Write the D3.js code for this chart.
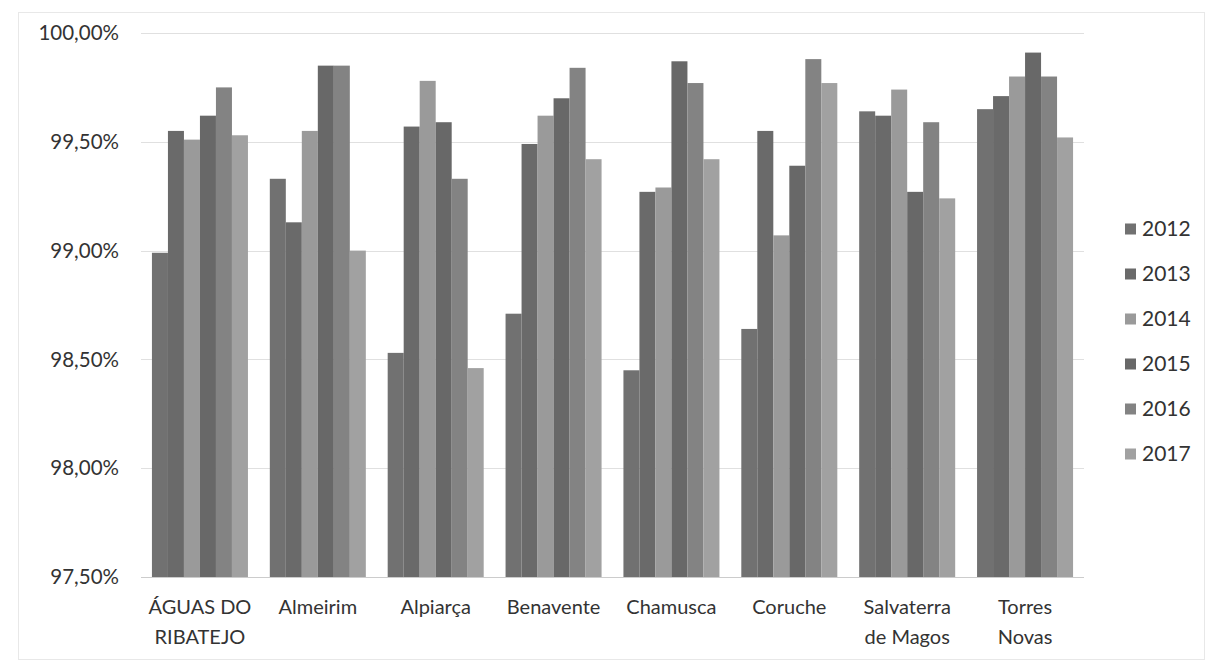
<!DOCTYPE html>
<html>
<head>
<meta charset="utf-8">
<script src="https://cdn.jsdelivr.net/npm/d3@7"></script>
<style>
  html, body { margin: 0; padding: 0; background: #fff; }
  svg { display: block; font-family: Lato, "Open Sans", "Liberation Sans", sans-serif; }
</style>
</head>
<body>
<svg id="chart" width="1209" height="665"></svg>
<script>
const categories = ["ÁGUAS DO RIBATEJO", "Almeirim", "Alpiarça", "Benavente", "Chamusca", "Coruche", "Salvaterra de Magos", "Torres Novas"];
const categoryLines = [["ÁGUAS DO", "RIBATEJO"], ["Almeirim"], ["Alpiarça"], ["Benavente"], ["Chamusca"], ["Coruche"], ["Salvaterra", "de Magos"], ["Torres", "Novas"]];
const years = ["2012", "2013", "2014", "2015", "2016", "2017"];
const v2012 = [98.99, 99.33, 98.53, 98.71, 98.45, 98.64, 99.64, 99.65];
const v2013 = [99.55, 99.13, 99.57, 99.49, 99.27, 99.55, 99.62, 99.71];
const v2014 = [99.51, 99.55, 99.78, 99.62, 99.29, 99.07, 99.74, 99.80];
const v2015 = [99.62, 99.85, 99.59, 99.70, 99.87, 99.39, 99.27, 99.91];
const v2016 = [99.75, 99.85, 99.33, 99.84, 99.77, 99.88, 99.59, 99.80];
const v2017 = [99.53, 99.00, 98.46, 99.42, 99.42, 99.77, 99.24, 99.52];
const series = [v2012, v2013, v2014, v2015, v2016, v2017];
const yTicks = [97.5, 98.0, 98.5, 99.0, 99.5, 100.0];
const colors = ["#717171", "#6a6a6a", "#9a9a9a", "#686868", "#838383", "#a1a1a1"];

const svg = d3.select("#chart");

// faint frame
svg.append("rect").attr("x", 18.5).attr("y", 12.5).attr("width", 1186).attr("height", 647)
  .attr("fill", "none").attr("stroke", "#e8e8e8");

const x0 = d3.scaleBand().domain(categories).range([141, 1084]).paddingInner(0.1855).paddingOuter(0.0928);
const x1 = d3.scaleBand().domain(years).range([0, x0.bandwidth()]);
const y = d3.scaleLinear().domain([97.5, 100]).range([577, 33]);

// gridlines
svg.append("g").selectAll("line").data(yTicks).join("line")
  .attr("x1", 141).attr("x2", 1084)
  .attr("y1", d => Math.round(y(d)) + 0.5).attr("y2", d => Math.round(y(d)) + 0.5)
  .attr("stroke", d => d === 97.5 ? "#cccccc" : "#e0e0e0").attr("stroke-width", 1.2);

// y axis labels
const fmt = d => d3.format(".2f")(d).replace(".", ",") + "%";
svg.append("g").selectAll("text").data(yTicks).join("text")
  .attr("x", 119).attr("y", d => y(d)).attr("dy", "0.35em")
  .attr("text-anchor", "end").attr("font-size", 20.5).attr("fill", "#333")
  .text(fmt);

// bars
const groups = svg.append("g").selectAll("g").data(categories).join("g")
  .attr("transform", d => `translate(${x0(d)},0)`);
groups.selectAll("rect").data((d, i) => years.map((yr, j) => ({ yr, v: series[j][i], j })))
  .join("rect")
  .attr("x", d => x1(d.yr)).attr("width", x1.bandwidth())
  .attr("y", d => y(d.v)).attr("height", d => y(97.5) - y(d.v))
  .attr("fill", d => colors[d.j]);

// category labels
const cl = svg.append("g").selectAll("text").data(categories).join("text")
  .attr("x", d => x0(d) + x0.bandwidth() / 2)
  .attr("y", 614)
  .attr("text-anchor", "middle").attr("font-size", 20).attr("fill", "#333");
cl.each(function (d, i) {
  d3.select(this).selectAll("tspan").data(categoryLines[i]).join("tspan")
    .attr("x", x0(d) + x0.bandwidth() / 2)
    .attr("dy", (t, k) => k === 0 ? 0 : 30)
    .text(t => t);
});

// legend
const lg = svg.append("g").selectAll("g").data(years).join("g")
  .attr("transform", (d, i) => `translate(1125, ${229 + i * 45})`);
lg.append("rect").attr("x", 0).attr("y", -5.5).attr("width", 11).attr("height", 11)
  .attr("fill", (d, i) => colors[i]);
lg.append("text").attr("x", 17).attr("dy", "0.35em").attr("font-size", 21).attr("fill", "#333").text(d => d);
</script>
</body>
</html>
